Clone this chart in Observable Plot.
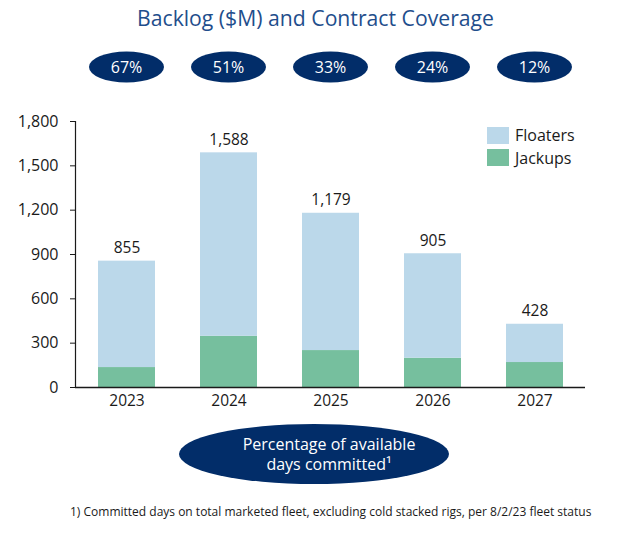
<!DOCTYPE html>
<html><head><meta charset="utf-8">
<script src="https://cdn.jsdelivr.net/npm/d3@7"></script>
<script src="https://cdn.jsdelivr.net/npm/@observablehq/plot@0.6"></script>
<style>
body{margin:0;background:#fff;font-family:"Open Sans",sans-serif;width:619px;height:534px;position:relative;overflow:hidden;}
#title{position:absolute;left:6px;top:3px;width:619px;text-align:center;font-size:21.2px;color:#1f4e8c;line-height:30px;}
#chart{position:absolute;left:0;top:36px;}
#legend{position:absolute;left:487px;top:124px;font-size:16px;color:#1a1a1a;}
#legend .row{display:flex;align-items:center;height:22.5px;}
#legend .sw{width:22px;height:17px;margin-right:6px;}
#note{position:absolute;left:70px;top:503px;font-size:12px;color:#1a1a1a;white-space:nowrap;}
</style></head><body>
<div id="title">Backlog ($M) and Contract Coverage</div>
<div id="chart"></div>
<div id="legend"></div>
<div id="note">1) Committed days on total marketed fleet, excluding cold stacked rigs, per 8/2/23 fleet status</div>
<script>
const years = ["2023", "2024", "2025", "2026", "2027"];
const totals = [855, 1588, 1179, 905, 428];
const jackups = [135, 347, 250, 198, 169];
const floaters = [720, 1241, 929, 707, 259];
const coverage = [67, 51, 33, 24, 12];
const yTicks = [0, 300, 600, 900, 1200, 1500, 1800];
const seriesNames = ["Floaters", "Jackups"];
const seriesColors = ["#bbd8ea", "#76bf9e"];
const coverageLabel = ["Percentage of available", "days committed\u00b9"];

const rows = [];
years.forEach((yr, i) => {
  rows.push({year: yr, series: "Jackups", value: jackups[i]});
  rows.push({year: yr, series: "Floaters", value: floaters[i]});
});
const totalRows = years.map((yr, i) => ({year: yr, total: totals[i]}));
const covRows = years.map((yr, i) => ({year: yr, pct: coverage[i]}));

const navy = "#022d69";
const fmt = d3.format(",");

function coverageMark(index, scales, values, dimensions) {
  const g = d3.create("svg:g");
  const x = scales.x;
  const bw = x.bandwidth ? x.bandwidth() : 0;
  for (const d of covRows) {
    const cx = x(d.year) + bw / 2;
    const cy = 31;
    g.append("ellipse").attr("cx", cx).attr("cy", cy).attr("rx", 37.5).attr("ry", 15.5).attr("fill", navy);
    g.append("text").attr("x", cx).attr("y", cy).attr("dy", "0.35em").attr("text-anchor", "middle")
      .attr("fill", "#fff").attr("font-size", 16).text(d.pct + "%");
  }
  const bx = 314, by = 418;
  g.append("ellipse").attr("cx", bx).attr("cy", by).attr("rx", 135).attr("ry", 30).attr("fill", navy);
  coverageLabel.forEach((t, i) => {
    g.append("text").attr("x", bx + 15).attr("y", by - 10 + i * 20).attr("dy", "0.35em").attr("text-anchor", "middle")
      .attr("fill", "#fff").attr("font-size", 16).text(t);
  });
  return g.node();
}

const chart = Plot.plot({
  width: 619,
  height: 462,
  marginTop: 85,
  marginBottom: 111,
  marginLeft: 75,
  marginRight: 34,
  style: {fontFamily: "Open Sans", color: "#1a1a1a", background: "#fff", overflow: "visible"},
  x: {domain: years, paddingInner: 0.443, paddingOuter: 0.214, label: null},
  y: {domain: [0, 1800], label: null},
  color: {domain: seriesNames, range: seriesColors},
  marks: [
    Plot.barY(rows, {x: "year", y: "value", fill: "series", order: ["Jackups", "Floaters"]}),
    Plot.frame({anchor: "left", stroke: "#1a1a1a", strokeWidth: 1.2}),
    Plot.ruleY([0], {stroke: "#1a1a1a", strokeWidth: 1.5}),
    Plot.axisY({ticks: yTicks, tickFormat: fmt, tickSize: 5, tickPadding: 12, fontSize: 16, label: null}),
    Plot.axisX({tickSize: 0, tickPadding: 7, fontSize: 15.5, label: null}),
    Plot.text(totalRows, {x: "year", y: "total", text: d => fmt(d.total), dy: -13, fontSize: 15.5, fill: "#1a1a1a"}),
    coverageMark
  ]
});
document.getElementById("chart").appendChild(chart);

const legend = document.getElementById("legend");
seriesNames.forEach((n, i) => {
  const r = document.createElement("div");
  r.className = "row";
  r.innerHTML = `<div class="sw" style="background:${seriesColors[i]}"></div><span>${n}</span>`;
  legend.appendChild(r);
});
</script>
</body></html>
